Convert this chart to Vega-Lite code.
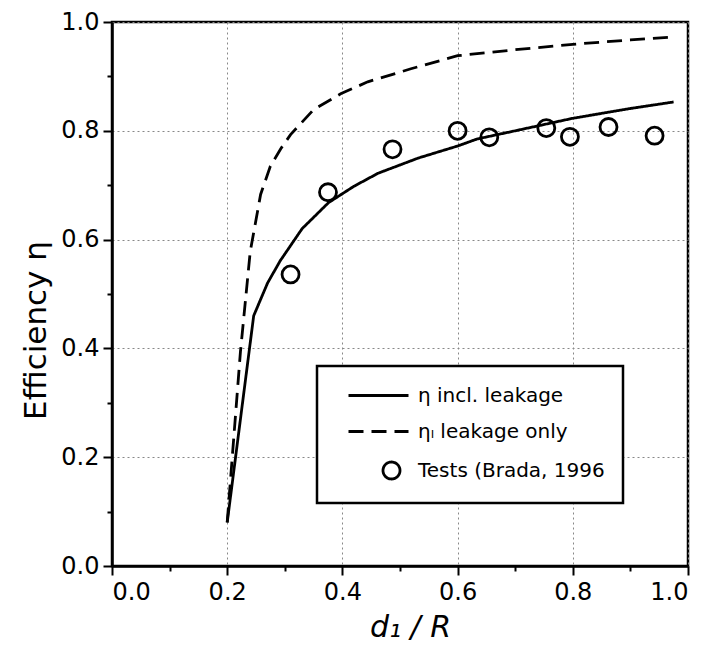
{
  "$schema": "https://vega.github.io/schema/vega-lite/v6.json",
  "width": 576,
  "height": 544,
  "autosize": {"type": "none"},
  "padding": {"left": 112, "top": 22, "right": 20, "bottom": 93},
  "background": "white",
  "config": {
    "font": "DejaVu Sans",
    "view": {"stroke": "black", "strokeWidth": 2.5},
    "axis": {
      "domainColor": "black",
      "domainWidth": 2.5,
      "tickColor": "black",
      "tickWidth": 2,
      "labelColor": "black",
      "labelFont": "DejaVu Sans",
      "labelFontSize": 24,
      "titleFont": "DejaVu Sans",
      "titleFontSize": 31,
      "titleFontWeight": "normal",
      "titleColor": "black",
      "gridColor": "#888888",
      "gridDash": [2, 3],
      "gridWidth": 1
    }
  },
  "datasets": {
    "curves": [
      {"series": "η incl. leakage", "d": 0.20, "eta": 0.08},
      {"series": "η incl. leakage", "d": 0.246, "eta": 0.46},
      {"series": "η incl. leakage", "d": 0.27, "eta": 0.52},
      {"series": "η incl. leakage", "d": 0.292, "eta": 0.561},
      {"series": "η incl. leakage", "d": 0.33, "eta": 0.62},
      {"series": "η incl. leakage", "d": 0.376, "eta": 0.668},
      {"series": "η incl. leakage", "d": 0.42, "eta": 0.698},
      {"series": "η incl. leakage", "d": 0.462, "eta": 0.722},
      {"series": "η incl. leakage", "d": 0.532, "eta": 0.75},
      {"series": "η incl. leakage", "d": 0.60, "eta": 0.772},
      {"series": "η incl. leakage", "d": 0.634, "eta": 0.785},
      {"series": "η incl. leakage", "d": 0.70, "eta": 0.80},
      {"series": "η incl. leakage", "d": 0.80, "eta": 0.823},
      {"series": "η incl. leakage", "d": 0.90, "eta": 0.841},
      {"series": "η incl. leakage", "d": 0.975, "eta": 0.853},
      {"series": "ηₗ leakage only", "d": 0.20, "eta": 0.08},
      {"series": "ηₗ leakage only", "d": 0.223, "eta": 0.394},
      {"series": "ηₗ leakage only", "d": 0.24, "eta": 0.578},
      {"series": "ηₗ leakage only", "d": 0.258, "eta": 0.683},
      {"series": "ηₗ leakage only", "d": 0.275, "eta": 0.735},
      {"series": "ηₗ leakage only", "d": 0.293, "eta": 0.767},
      {"series": "ηₗ leakage only", "d": 0.31, "eta": 0.793},
      {"series": "ηₗ leakage only", "d": 0.35, "eta": 0.839},
      {"series": "ηₗ leakage only", "d": 0.397, "eta": 0.868},
      {"series": "ηₗ leakage only", "d": 0.444, "eta": 0.89},
      {"series": "ηₗ leakage only", "d": 0.519, "eta": 0.914},
      {"series": "ηₗ leakage only", "d": 0.60, "eta": 0.938},
      {"series": "ηₗ leakage only", "d": 0.70, "eta": 0.949},
      {"series": "ηₗ leakage only", "d": 0.80, "eta": 0.959},
      {"series": "ηₗ leakage only", "d": 0.90, "eta": 0.967},
      {"series": "ηₗ leakage only", "d": 0.97, "eta": 0.972}
    ],
    "tests": [
      {"d": 0.31, "eta": 0.536},
      {"d": 0.375, "eta": 0.687},
      {"d": 0.487, "eta": 0.766},
      {"d": 0.60, "eta": 0.80},
      {"d": 0.655, "eta": 0.788},
      {"d": 0.754, "eta": 0.805},
      {"d": 0.795, "eta": 0.789},
      {"d": 0.862, "eta": 0.807},
      {"d": 0.942, "eta": 0.791}
    ]
  },
  "layer": [
    {
      "data": {"name": "curves"},
      "mark": {"type": "line", "color": "black", "strokeWidth": 2.8},
      "encoding": {
        "x": {
          "field": "d", "type": "quantitative",
          "scale": {"domain": [0, 1], "nice": false, "zero": false},
          "axis": {
            "values": [0, 0.1, 0.2, 0.3, 0.4, 0.5, 0.6, 0.7, 0.8, 0.9, 1.0],
            "labelExpr": "round(datum.value*10)%2==0 ? format(datum.value,'.1f') : ''",
            "tickSize": {"condition": {"test": "round(datum.value*10)%2==1", "value": 5}, "value": 9},
            "gridOpacity": {"condition": {"test": "round(datum.value*10)%2==1", "value": 0}, "value": 1},
            "labelPadding": 5,
            "title": "d₁ / R",
            "titleFontStyle": "italic",
            "titleFontSize": 30,
            "titlePadding": 8,
            "titleX": 298
          }
        },
        "y": {
          "field": "eta", "type": "quantitative",
          "scale": {"domain": [0, 1], "nice": false, "zero": false},
          "axis": {
            "values": [0, 0.1, 0.2, 0.3, 0.4, 0.5, 0.6, 0.7, 0.8, 0.9, 1.0],
            "labelExpr": "round(datum.value*10)%2==0 ? format(datum.value,'.1f') : ''",
            "tickSize": {"condition": {"test": "round(datum.value*10)%2==1", "value": 5}, "value": 9},
            "gridOpacity": {"condition": {"test": "round(datum.value*10)%2==1", "value": 0}, "value": 1},
            "labelPadding": 4,
            "title": "Efficiency η",
            "titlePadding": 8,
            "titleY": 308
          }
        },
        "strokeDash": {
          "field": "series", "type": "nominal",
          "scale": {
            "domain": ["η incl. leakage", "ηₗ leakage only", "Tests (Brada, 1996"],
            "range": [[1, 0], [15, 8], [1, 0]]
          },
          "legend": {
            "title": null,
            "orient": "none",
            "legendX": 205,
            "legendY": 344,
            "padding": 18,
            "rowPadding": 14,
            "symbolOffset": 22,
            "labelOffset": 38,
            "symbolSize": 400,
            "symbolStrokeColor": "black",
            "symbolStrokeWidth": 2.8,
            "labelFont": "DejaVu Sans",
            "labelFontSize": 20,
            "labelColor": "black",
            "labelLimit": 400,
            "strokeColor": "black",
            "fillColor": "white",
            "encode": {
              "symbols": {
                "update": {
                  "shape": {"signal": "datum.value === 'Tests (Brada, 1996' ? 'M3.15,0A0.85,0.85,0,1,1,1.45,0A0.85,0.85,0,1,1,3.15,0Z' : 'M-2,0H4'"},
                  "fill": {"value": "transparent"},
                  "stroke": {"value": "black"},
                  "strokeWidth": {"value": 2.8}
                }
              },
              "legend": {"update": {"strokeWidth": {"value": 2.5}}}
            }
          }
        }
      }
    },
    {
      "data": {"name": "tests"},
      "mark": {"type": "point", "shape": "circle", "filled": false, "stroke": "black", "strokeWidth": 2.8, "size": 289, "opacity": 1},
      "encoding": {
        "x": {"field": "d", "type": "quantitative"},
        "y": {"field": "eta", "type": "quantitative"}
      }
    }
  ]
}
